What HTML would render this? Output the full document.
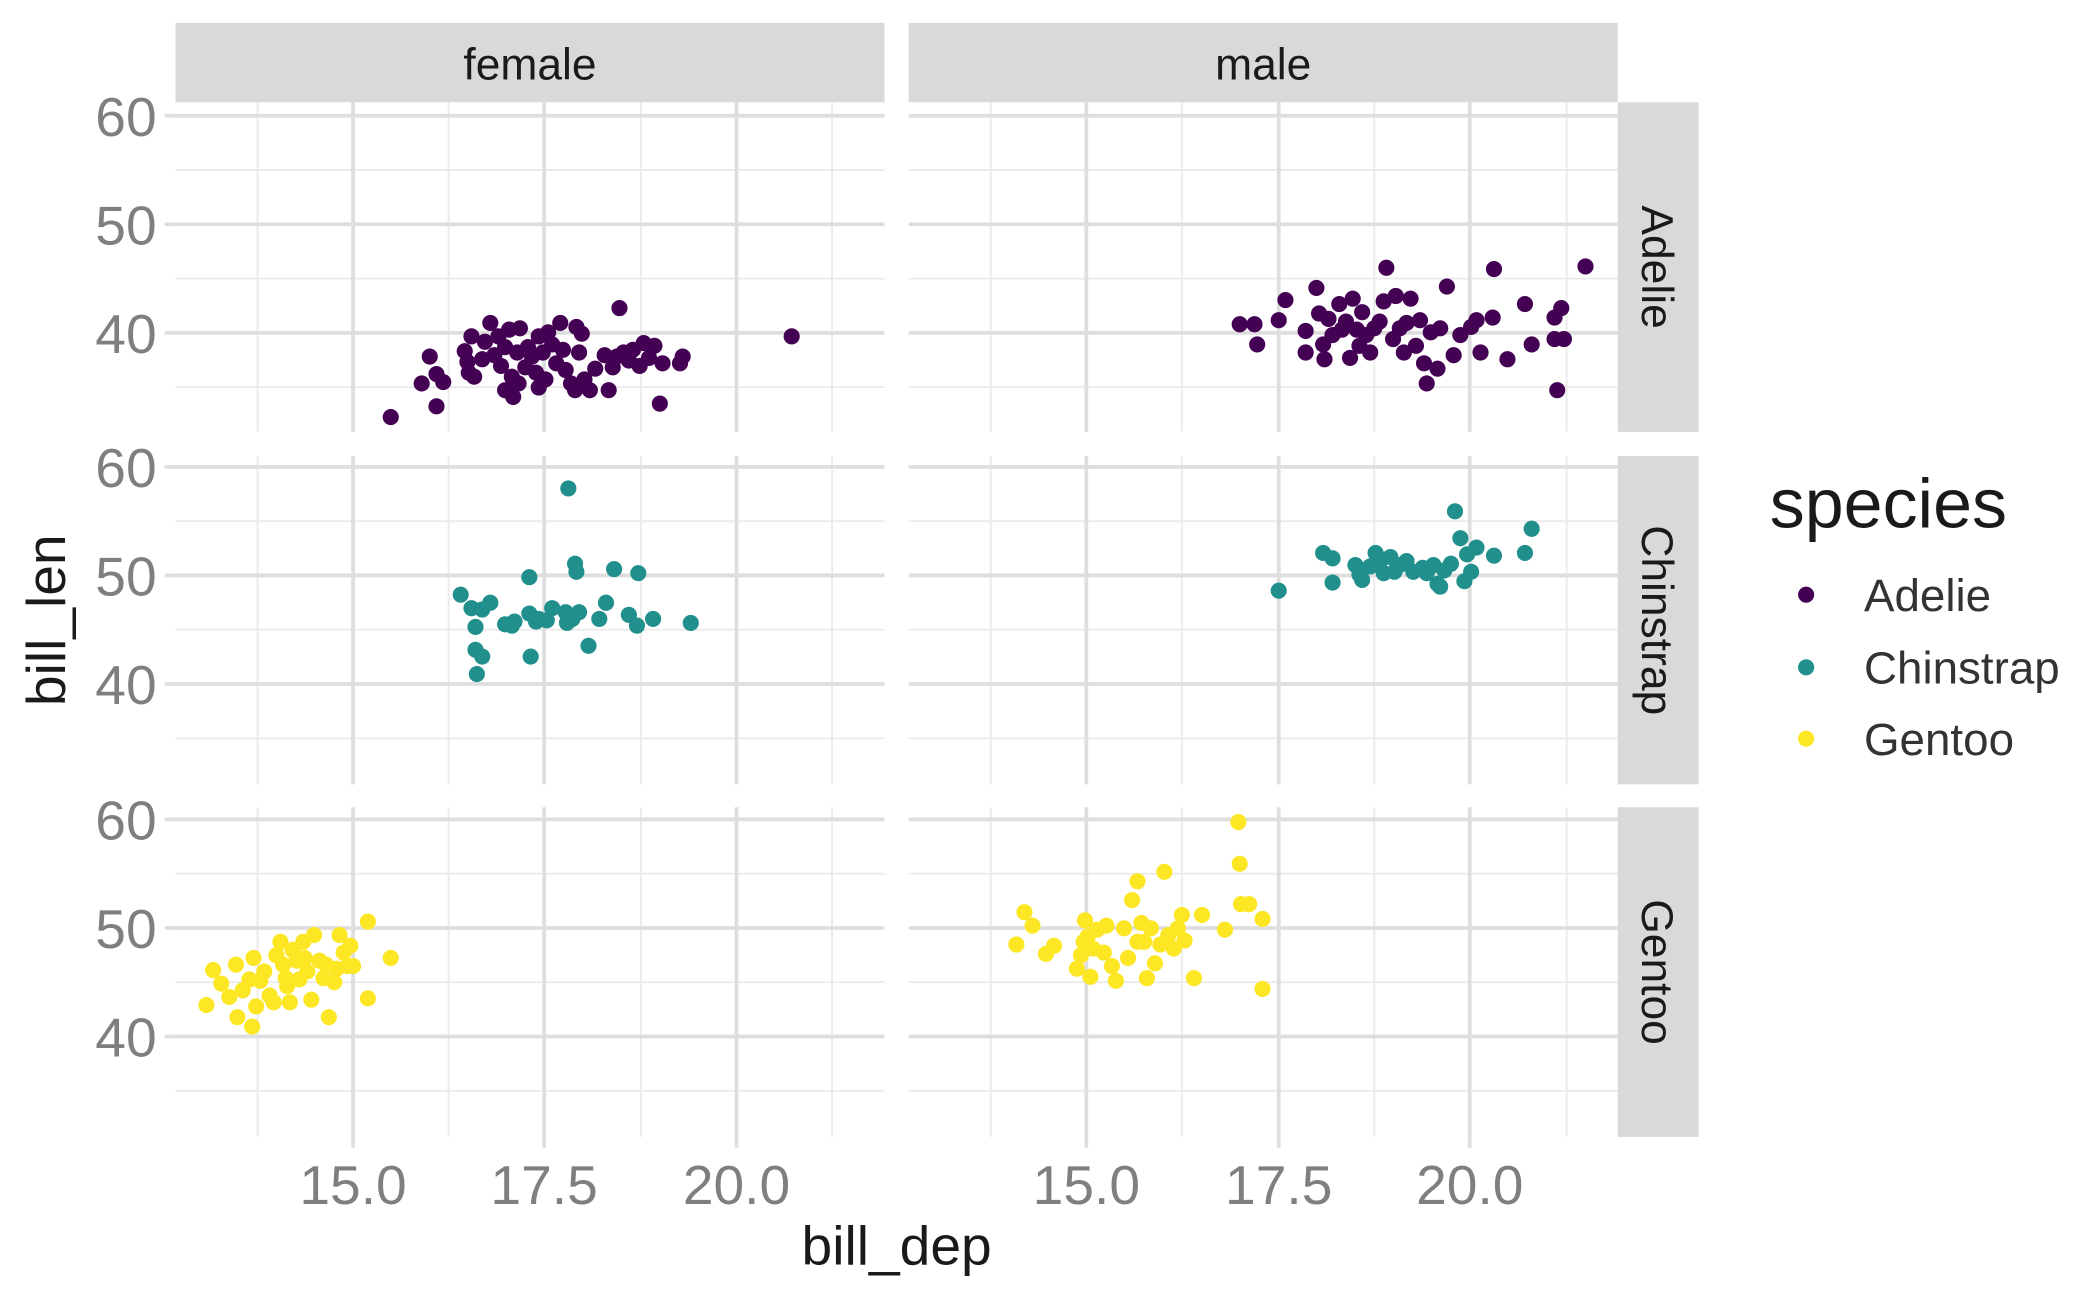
<!DOCTYPE html>
<html><head><meta charset="utf-8"><style>
html,body{margin:0;padding:0;background:#fff}
svg{display:block}
text{font-family:"Liberation Sans",sans-serif}
</style></head><body>
<svg id="s" width="2100" height="1297" viewBox="0 0 1560 964" xmlns="http://www.w3.org/2000/svg">
<rect width="1560" height="964" fill="#fff"/>
<g id="grid"></g>
<g id="pts"></g>
<rect x="130" y="17" width="527" height="59" fill="#d9d9d9"/>
<rect x="675" y="17" width="527" height="59" fill="#d9d9d9"/>
<text x="393.5" y="59" font-size="33" text-anchor="middle" fill="#1a1a1a">female</text>
<text x="938.5" y="59" font-size="33" text-anchor="middle" fill="#1a1a1a">male</text>
<rect x="1202" y="76" width="60" height="245" fill="#d9d9d9"/>
<rect x="1202" y="339" width="60" height="244" fill="#d9d9d9"/>
<rect x="1202" y="600" width="60" height="245" fill="#d9d9d9"/>
<text transform="translate(1220,198.5) rotate(90)" font-size="33" text-anchor="middle" fill="#1a1a1a">Adelie</text>
<text transform="translate(1220,461) rotate(90)" font-size="33" text-anchor="middle" fill="#1a1a1a">Chinstrap</text>
<text transform="translate(1220,722.5) rotate(90)" font-size="33" text-anchor="middle" fill="#1a1a1a">Gentoo</text>
<g id="ticks" font-size="41" fill="#7f7f7f"></g>
<text x="666" y="940" font-size="41" text-anchor="middle" fill="#1a1a1a">bill_dep</text>
<text transform="translate(48,461) rotate(-90)" font-size="41" text-anchor="middle" fill="#1a1a1a">bill_len</text>
<text x="1315" y="392" font-size="52" fill="#1a1a1a">species</text>
<circle cx="1342" cy="442" r="6" fill="#440154"/>
<circle cx="1342" cy="496" r="6" fill="#21908C"/>
<circle cx="1342" cy="549" r="6" fill="#FDE725"/>
<text x="1385" y="454" font-size="34" fill="#333">Adelie</text>
<text x="1385" y="508" font-size="34" fill="#333">Chinstrap</text>
<text x="1385" y="561" font-size="34" fill="#333">Gentoo</text>
</svg>
<script>
var NS="http://www.w3.org/2000/svg";
function el(p,t,a,txt){var e=document.createElementNS(NS,t);for(var k in a)e.setAttribute(k,a[k]);if(txt)e.textContent=txt;p.appendChild(e);return e;}
var grid=document.getElementById('grid'),ticks=document.getElementById('ticks'),pts=document.getElementById('pts');
var cols=[{x0:130,x1:657,maj:[262,404,547],min:[191,333,476,618]},{x0:675,x1:1202,maj:[807,950,1092],min:[736,878,1021,1164]}];
var rows=[{y0:76,y1:321,y60:86},{y0:339,y1:583,y60:347},{y0:600,y1:845,y60:609}];
rows.forEach(function(r,ri){
 var u=8.07;
 cols.forEach(function(c){
  [55,45,35].forEach(function(v){var y=r.y60+(60-v)*u;el(grid,'line',{x1:c.x0,x2:c.x1,y1:y,y2:y,stroke:'#ebebeb','stroke-width':1.4});});
  c.min.forEach(function(x){el(grid,'line',{x1:x,x2:x,y1:r.y0,y2:r.y1,stroke:'#ebebeb','stroke-width':1.4});});
  [60,50,40].forEach(function(v){var y=r.y60+(60-v)*u;el(grid,'line',{x1:c.x0,x2:c.x1,y1:y,y2:y,stroke:'#dedede','stroke-width':2.8});});
  c.maj.forEach(function(x){el(grid,'line',{x1:x,x2:x,y1:r.y0,y2:r.y1,stroke:'#dedede','stroke-width':2.8});});
 });
 [60,50,40].forEach(function(v){var y=r.y60+(60-v)*u;el(grid,'line',{x1:122,x2:130,y1:y,y2:y,stroke:'#dedede','stroke-width':2.8});
  el(ticks,'text',{x:116,y:y+15,'text-anchor':'end'},String(v));});
});
cols.forEach(function(c){['15.0','17.5','20.0'].forEach(function(l,i){el(grid,'line',{x1:c.maj[i],x2:c.maj[i],y1:845,y2:853,stroke:'#dedede','stroke-width':2.8});el(ticks,'text',{x:c.maj[i],y:895,'text-anchor':'middle'},l);});});
var A='#440154',C='#21908C',G='#FDE725';
var data=[[A,[290,310,319,265,324,302,313,285,324,278,329,284,347,269,348,277,345,261,352,280,350,250,358,267,360,254,364,240,367,264,370,250,372,272,375,258,378,245,380,280,381,295,384,262,386,244,390,273,392,258,395,265,398,277,400,250,403,262,405,282,407,247,410,256,413,270,416,240,418,260,420,275,424,285,428,243,430,262,432,248,434,282,438,290,442,274,449,264,452,290,455,273,458,265,460,229,463,262,467,268,470,260,475,272,478,255,482,266,486,257,490,300,492,270,505,270,507,265,588,250,375,290,385,285,400,288,427,290]],
[A,[921,241,932,241,934,256,950,238,955,223,970,246,978,214,980,233,983,256,984,267,987,237,990,249,995,226,997,245,1000,239,1003,266,1005,222,1008,245,1012,232,1015,249,1018,262,1021,244,1025,239,1028,224,1030,199,1035,252,1037,220,1040,244,1043,262,1045,240,1048,222,1052,257,1055,238,1058,270,1060,285,1063,247,1068,274,1070,244,1075,213,1080,264,1085,249,1093,243,1097,238,1100,262,1109,236,1110,200,1120,267,1133,226,1138,256,1155,236,1157,290,1160,229,1162,252,1178,198,1155,252,970,262,1010,257]],
[C,[342,442,350,452,353,466,353,483,354,501,358,488,358,453,364,448,375,464,382,462,393,429,394,488,393,456,398,462,406,461,410,452,420,455,421,463,422,363,427,419,428,425,430,455,437,480,445,460,450,448,456,423,467,457,473,465,474,426,485,460,513,463,400,460,425,460,380,465]],
[C,[950,439,983,411,990,415,990,433,1007,420,1010,427,1012,431,1018,421,1022,411,1025,418,1028,426,1033,414,1036,425,1040,420,1045,417,1057,422,1060,426,1065,420,1068,434,1070,436,1073,424,1078,419,1081,380,1085,400,1088,432,1090,412,1093,425,1097,407,1110,413,1133,411,1138,393,1050,425]],
[G,[153,747,158,721,164,731,170,741,175,717,176,756,180,736,185,728,187,763,188,712,190,748,193,729,196,722,200,740,203,745,205,710,208,700,210,717,212,727,215,745,217,706,220,714,222,728,225,700,228,722,231,743,233,695,237,714,240,727,242,717,244,756,248,730,250,720,252,695,255,708,258,718,260,703,262,718,273,685,273,742,290,712,213,733,226,712]],
[G,[755,702,761,678,767,688,777,709,783,703,800,720,803,710,806,684,808,696,810,726,812,705,815,691,820,708,822,688,826,718,829,729,835,690,838,712,841,669,845,655,848,686,850,700,852,727,855,690,858,716,862,702,865,648,868,695,872,705,875,690,878,680,880,699,887,727,893,680,910,691,920,611,921,642,922,672,928,672,938,683,938,735,805,700,845,700]]];
data.forEach(function(d){for(var i=0;i<d[1].length;i+=2)el(pts,'circle',{cx:d[1][i],cy:d[1][i+1],r:6,fill:d[0]});});
</script>
</body></html>
